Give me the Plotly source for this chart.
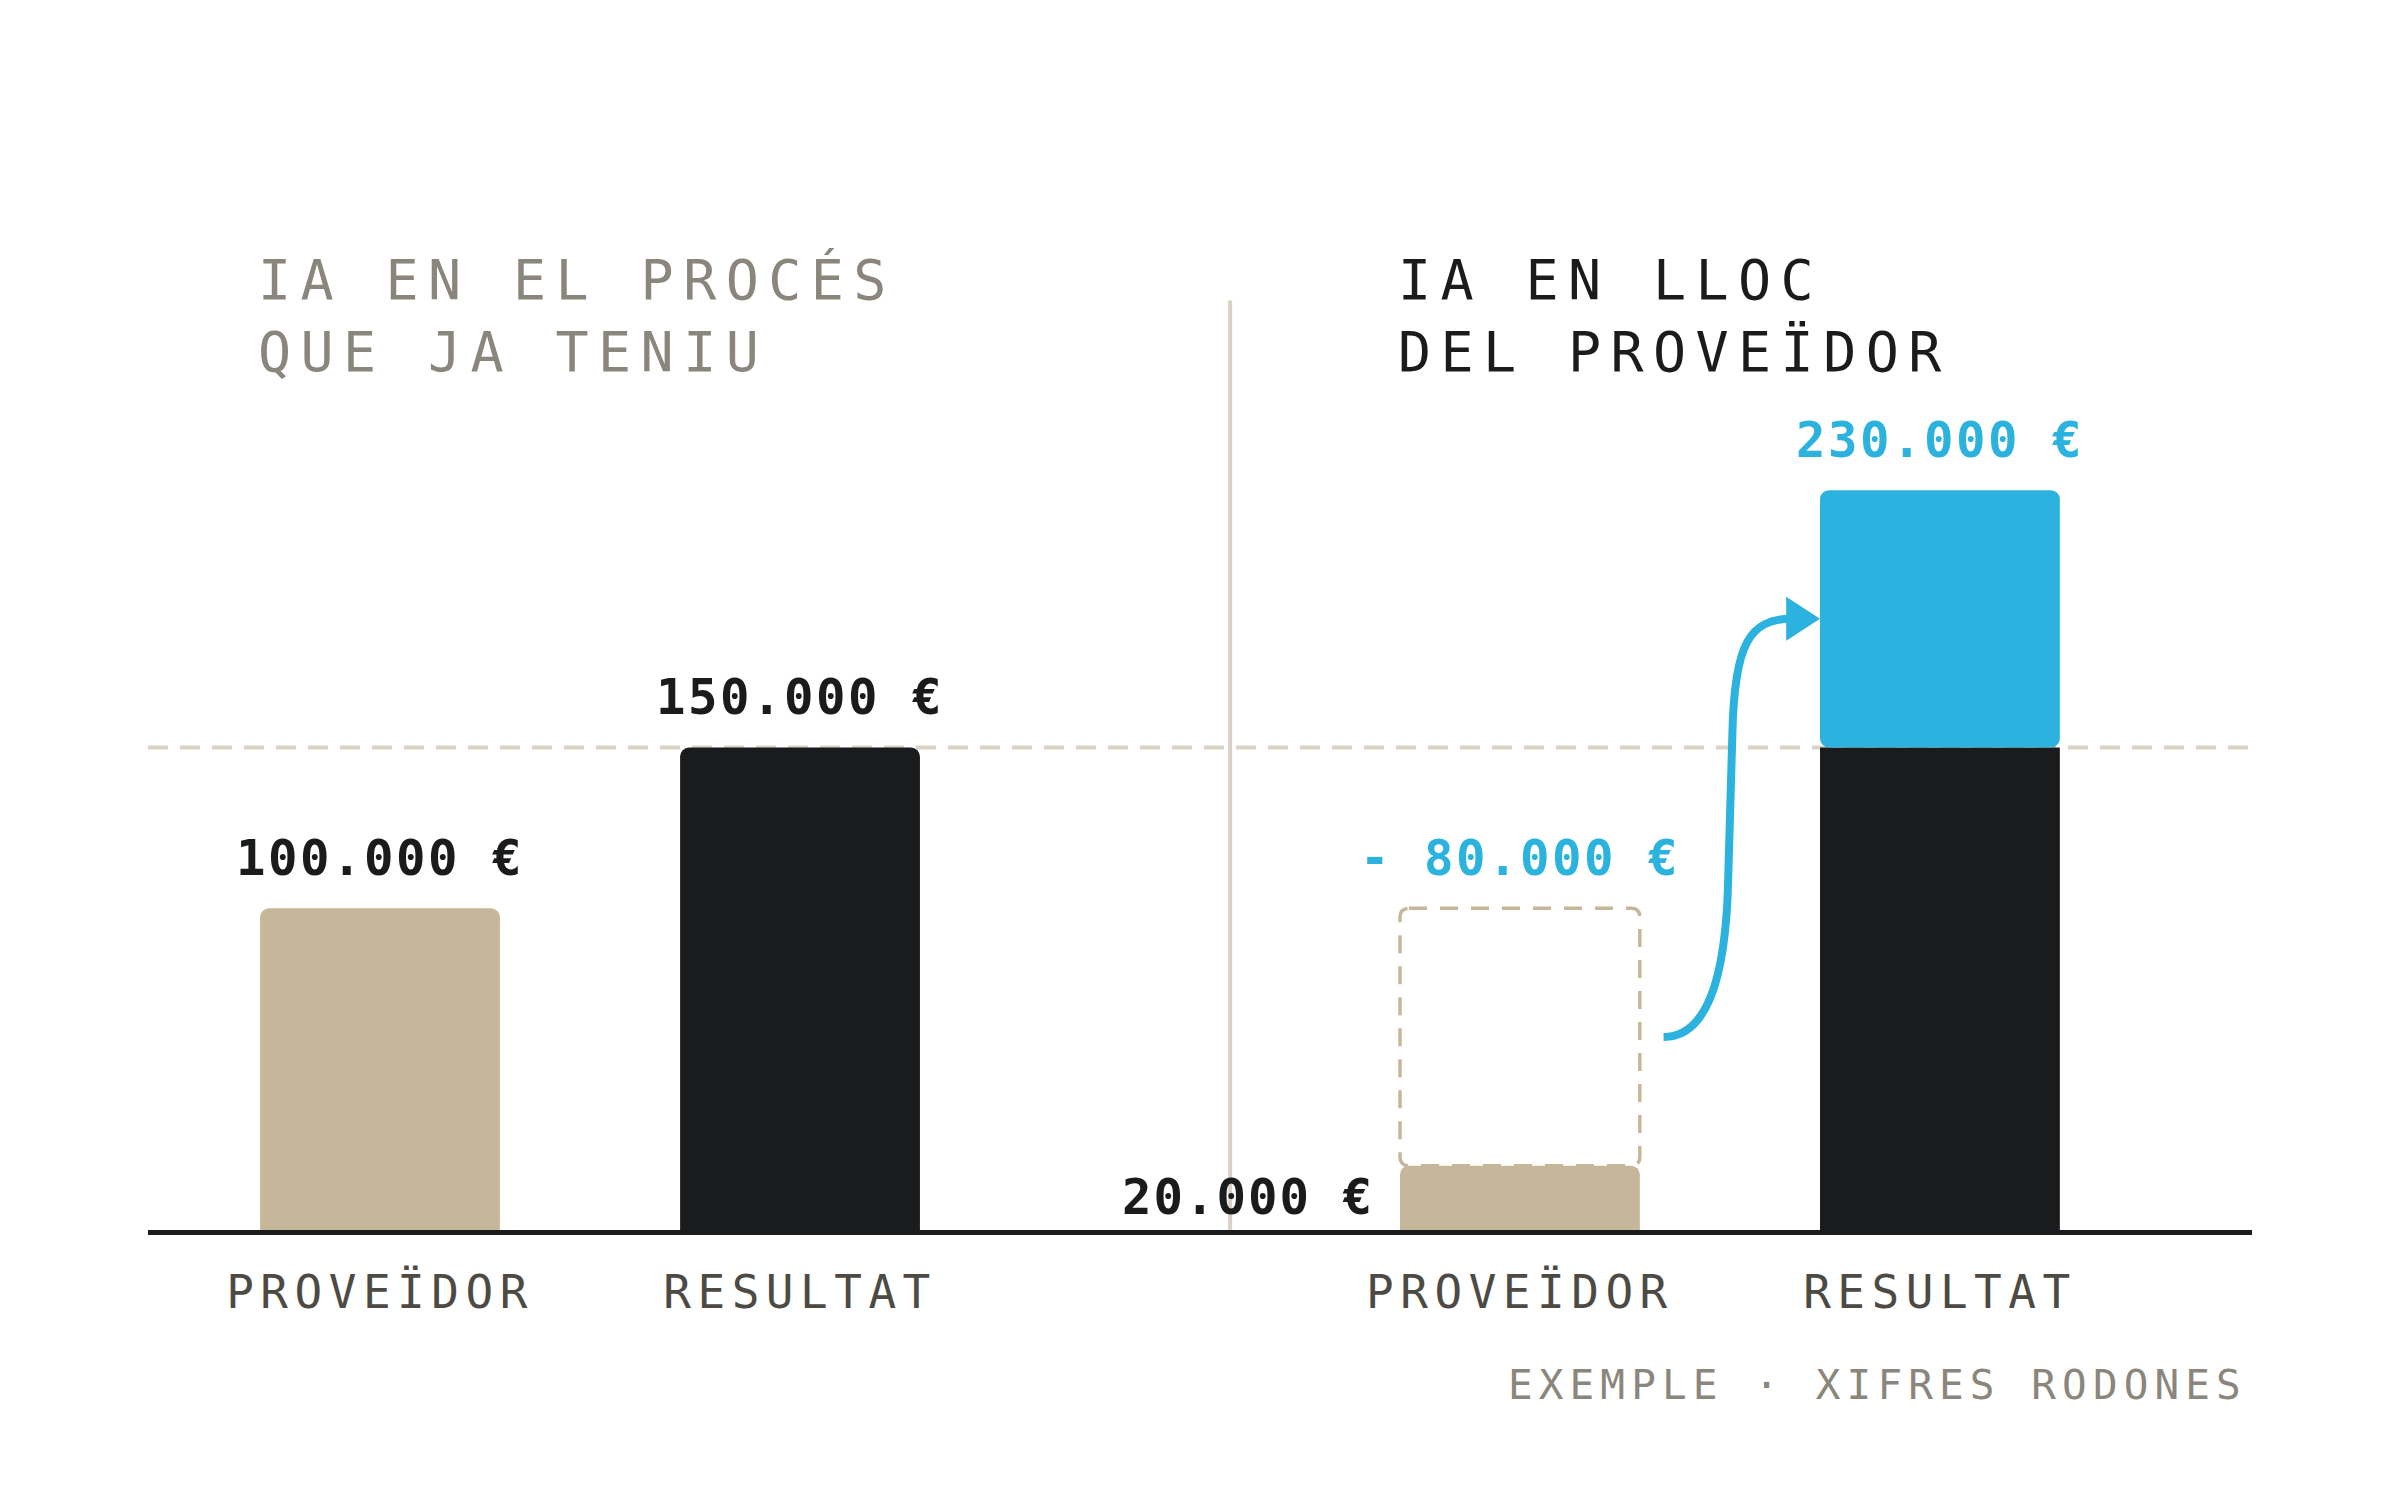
import plotly.graph_objects as go

# values in euros
panel_titles = [["IA EN EL PROCÉS", "QUE JA TENIU"], ["IA EN LLOC", "DEL PROVEÏDOR"]]
categories = ["PROVEÏDOR", "RESULTAT"]
provider_cost = [100000, 20000]     # what goes to the provider, before / after
result_base = [150000, 150000]      # the result both ways
result_total = [150000, 230000]     # result once the saving is reinvested
saving = 80000
footnote = "EXEMPLE · XIFRES RODONES"

# layout bits
slot_x = [0, 1, 2.714, 3.714]
bar_w = 0.571
divider_x = 2.024
TAN = "#c6b79a"
INK = "#1a1b1d"
BLUE = "#2cb2de"
RULE = "#d9d2c5"
GREY = "#8a867b"
LABEL = "#4d4a44"
MONO = "DejaVu Sans Mono"


def spaced(txt, px):
    return f'<span style="letter-spacing:{px}px">{txt}</span>'


def euros(v):
    return f"{v:,}".replace(",", ".") + " €"


fig = go.Figure()

fig.add_bar(x=[slot_x[0], slot_x[2]], y=provider_cost, width=bar_w,
            marker=dict(color=TAN, cornerradius=9, line_width=0))
fig.add_bar(x=[slot_x[1], slot_x[3]], y=result_base, width=bar_w,
            marker=dict(color=INK, cornerradius=9, line_width=0))
fig.add_bar(x=[slot_x[3]], y=[result_total[1] - result_base[1]], base=[result_base[1]],
            width=bar_w, marker=dict(color=BLUE, cornerradius=9, line_width=0))

# reference level of the result
fig.add_shape(type="line", xref="paper", x0=0, x1=1, y0=result_base[0], y1=result_base[0],
              line=dict(color=RULE, width=4, dash="20px,12px"), layer="below")
# divider between both scenarios
fig.add_shape(type="line", x0=divider_x, x1=divider_x, y0=0, y1=289000,
              line=dict(color=RULE, width=4), layer="below")

# ghost of the old provider cost
x0 = slot_x[2] - bar_w / 2
x1 = slot_x[2] + bar_w / 2
y0 = provider_cost[1]
y1 = provider_cost[0]
rx, ry = 0.0214, 2800
ghost = (f"M {x0 + rx},{y1} L {x1 - rx},{y1} Q {x1},{y1} {x1},{y1 - ry} "
         f"L {x1},{y0 + ry} Q {x1},{y0} {x1 - rx},{y0} L {x0 + rx},{y0} "
         f"Q {x0},{y0} {x0},{y0 + ry} L {x0},{y1 - ry} Q {x0},{y1} {x0 + rx},{y1} Z")
fig.add_shape(type="path", path=ghost, line=dict(color=TAN, width=3.5, dash="18px,13px"),
              fillcolor="rgba(0,0,0,0)", layer="above")

# arrow: saving moves into the result
tip_x = slot_x[3] - bar_w / 2
arrow_y = 190000
curve = (f"M 3.056,60000 C 3.15,60000 3.205,75000 3.21,110000 "
         f"L 3.22,155000 C 3.225,182000 3.26,{arrow_y} 3.36,{arrow_y}")
fig.add_shape(type="path", path=curve, line=dict(color=BLUE, width=8),
              fillcolor="rgba(0,0,0,0)", layer="above")
head = f"M {tip_x},{arrow_y} L 3.348,{arrow_y + 6840} L 3.348,{arrow_y - 6840} Z"
fig.add_shape(type="path", path=head, fillcolor=BLUE, line=dict(width=0), layer="above")

# value labels
labels = [
    (slot_x[0], provider_cost[0], euros(provider_cost[0]), INK),
    (slot_x[1], result_base[0], euros(result_base[0]), INK),
    (slot_x[2], provider_cost[0], "- " + euros(saving), BLUE),
    (slot_x[3], result_total[1], euros(result_total[1]), BLUE),
]
for x, y, txt, col in labels:
    fig.add_annotation(x=x, y=y, text=spaced(txt, 2.5), showarrow=False,
                       xanchor="center", yanchor="middle", yshift=50,
                       font=dict(family=MONO, size=49, color=col, weight="bold"))
fig.add_annotation(x=x0, y=provider_cost[1] / 2, text=spaced(euros(provider_cost[1]), 2),
                   showarrow=False, xanchor="right", yanchor="middle", xshift=-24,
                   font=dict(family=MONO, size=49, color=INK, weight="bold"))

# panel titles
for i, (lines, col) in enumerate(zip(panel_titles, [GREY, INK])):
    fig.add_annotation(x=slot_x[2 * i] - bar_w / 2, xref="x", y=0.947, yref="paper",
                       text="<br>".join(spaced(t, 9.4) for t in lines),
                       showarrow=False, xanchor="left", yanchor="middle", align="left",
                       xshift=-4, font=dict(family=MONO, size=55, color=col))

fig.add_annotation(x=1, xref="paper", y=-0.1606, yref="paper", text=spaced(footnote, 6.1),
                   showarrow=False, xanchor="right", yanchor="middle", xshift=-3,
                   font=dict(family=MONO, size=41, color=GREY))

fig.update_layout(
    width=2400, height=1500, autosize=False,
    margin=dict(l=140, r=156, t=257, b=278),
    paper_bgcolor="white", plot_bgcolor="white",
    barmode="overlay", showlegend=False, hovermode=False,
    font=dict(family=MONO),
)
fig.update_xaxes(range=[-0.5524, 4.457], tickvals=slot_x,
                 ticktext=[spaced(c, 6.5) for c in categories * 2],
                 tickfont=dict(family=MONO, size=46, color=LABEL),
                 showgrid=False, zeroline=False, ticks="",
                 showline=True, linecolor=INK, linewidth=5, layer="below traces",
                 ticklabelstandoff=18)
fig.update_yaxes(range=[0, 300000], visible=False, showgrid=False, zeroline=False)

fig.write_html("out.html")
